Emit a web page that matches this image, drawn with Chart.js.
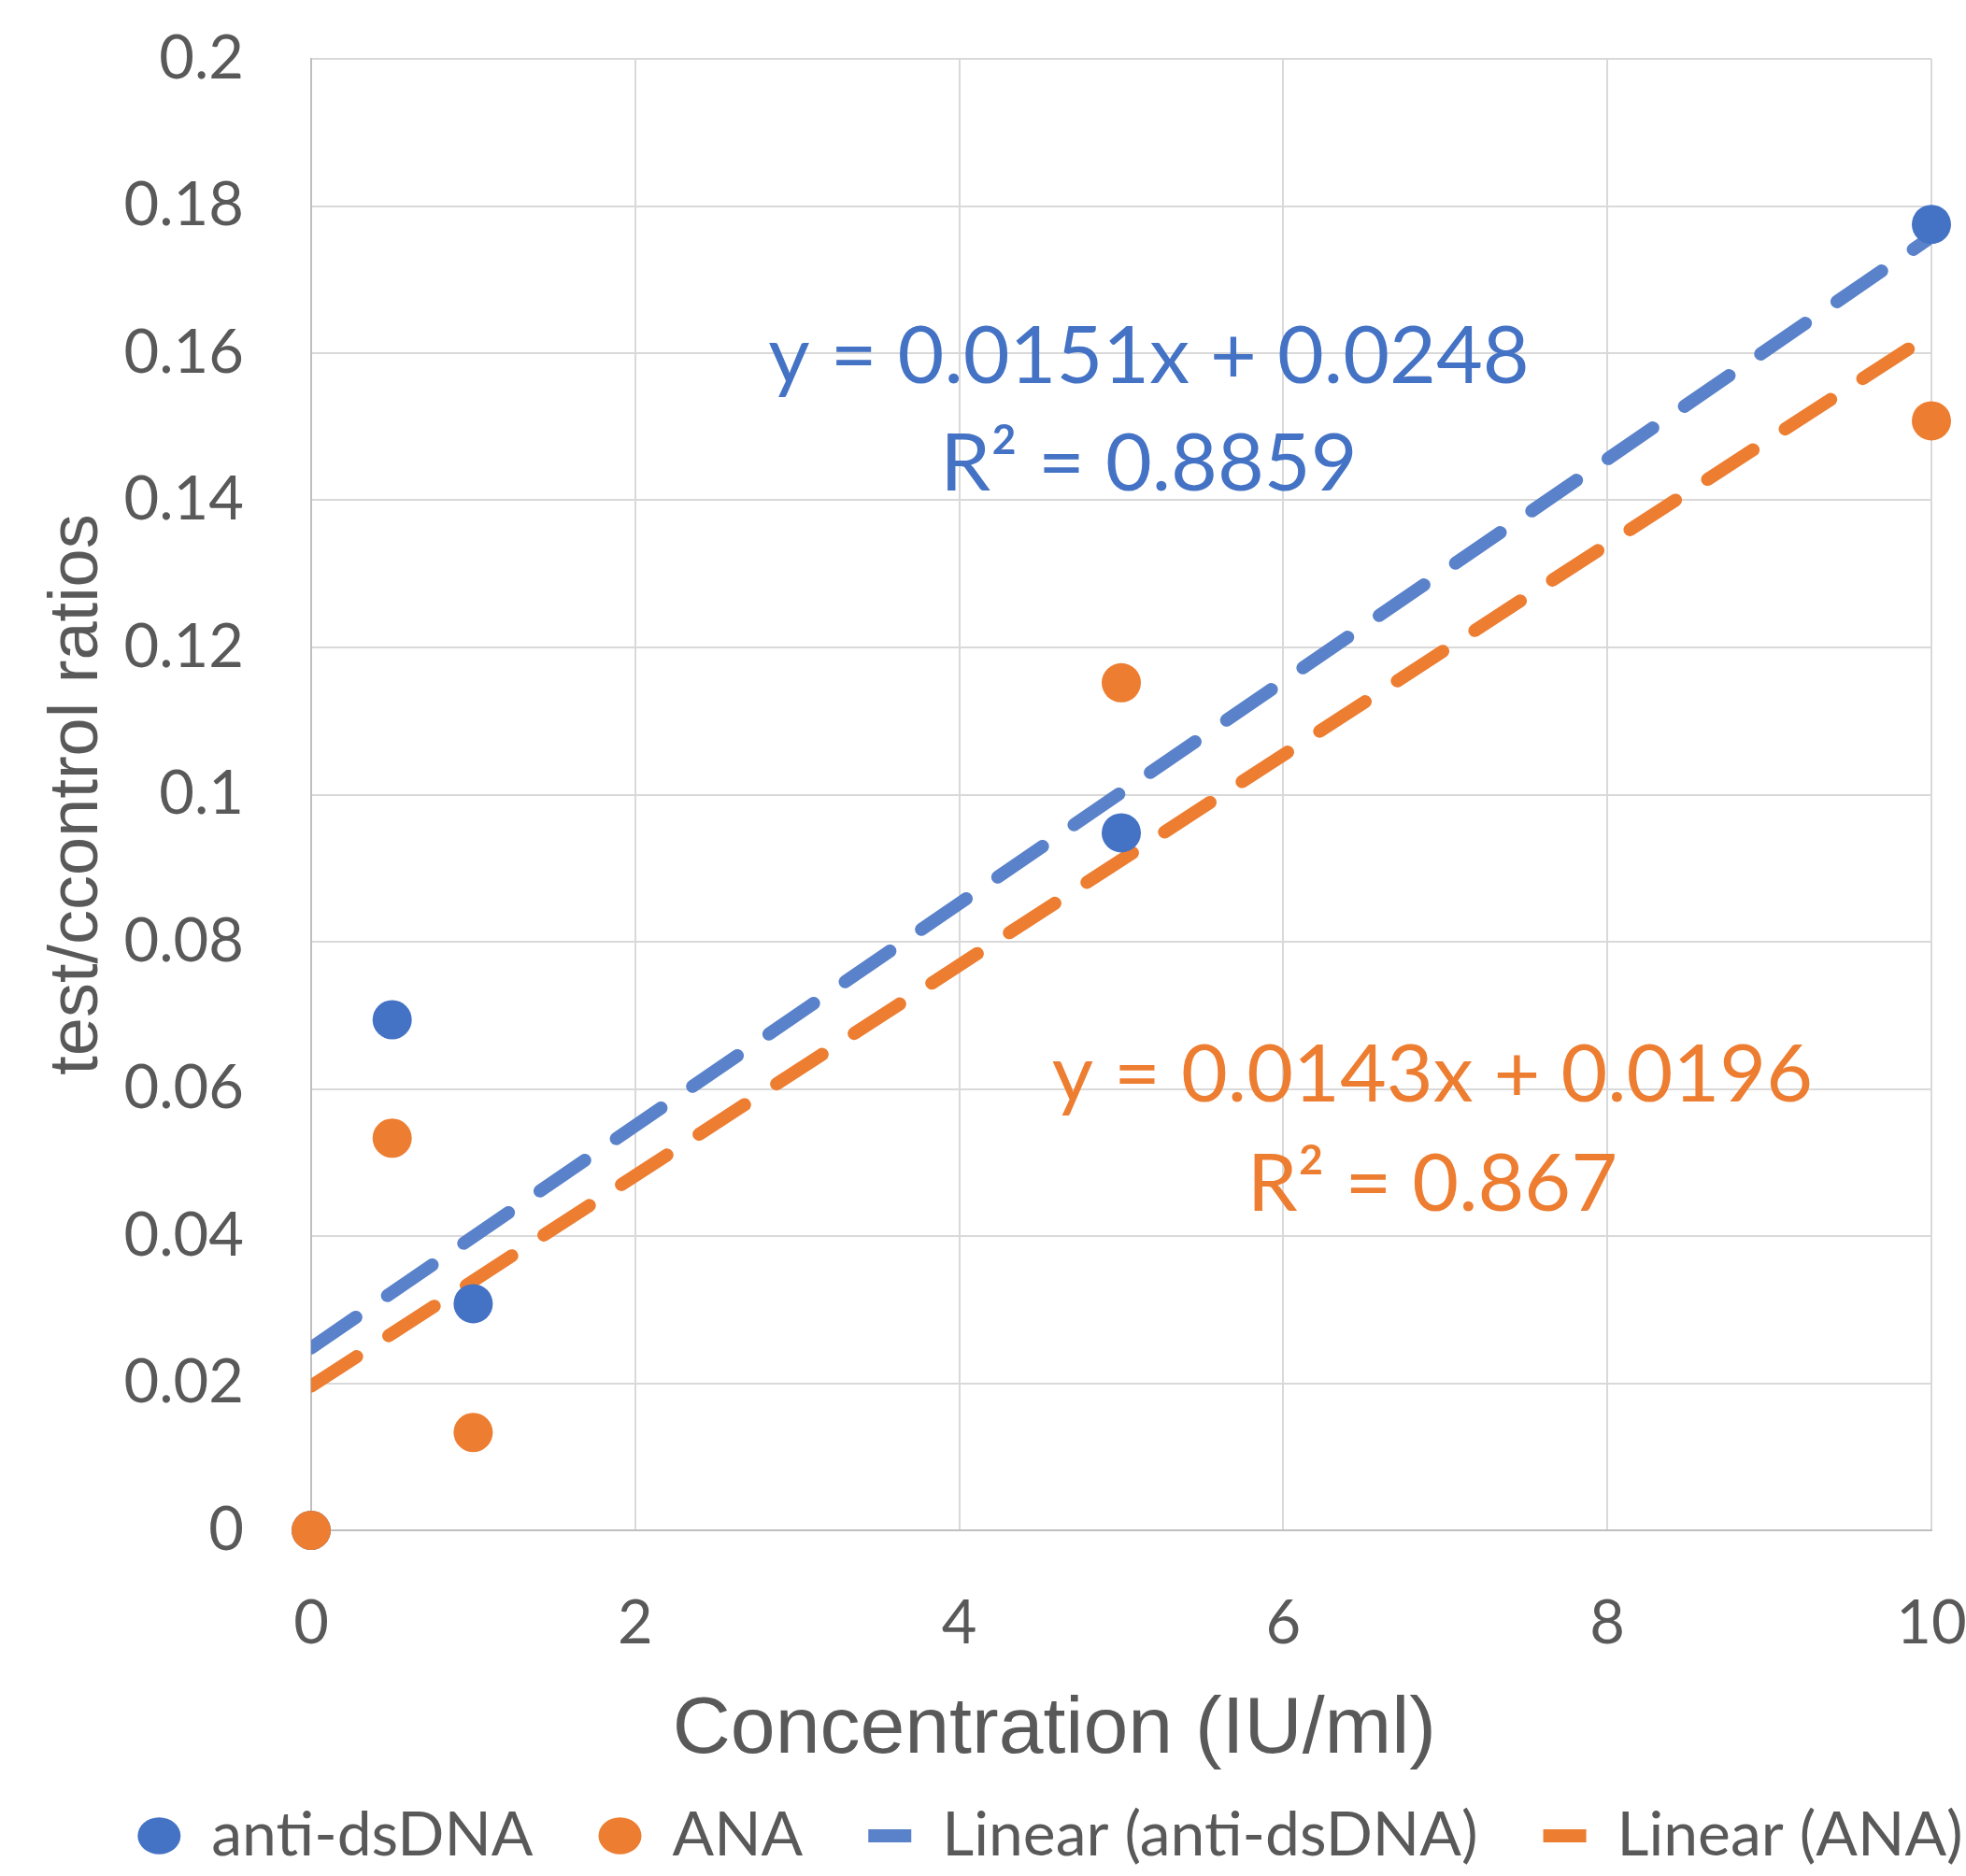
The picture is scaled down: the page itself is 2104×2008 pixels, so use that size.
<!DOCTYPE html>
<html>
<head>
<meta charset="utf-8">
<script src="https://cdn.jsdelivr.net/npm/chart.js@4"></script>
<style>
  html, body { margin: 0; padding: 0; background: #fff; }
  #wrap { width: 2104px; height: 2008px; }
</style>
</head>
<body>
<div id="wrap"><canvas id="chart" width="2104" height="2008"></canvas></div>
<script>
// Concentration (IU/ml) and measured test/control ratios
const concentrations = [0, 0.5, 1, 5, 10];
const antiDsDna = [0, 0.0694, 0.0308, 0.0948, 0.1775];
const ana = [0, 0.0533, 0.0133, 0.1152, 0.1508];

// Excel linear trendlines as printed on the chart
const trendSlopes = [0.0151, 0.0143];
const trendIntercepts = [0.0248, 0.0196];
const trendRange = [0, 10];
const equationLabels = [
  ['y = 0.0151x + 0.0248', 'R\u00b2 = 0.8859'],
  ['y = 0.0143x + 0.0196', 'R\u00b2 = 0.867']
];

const yTicks = [0, 0.02, 0.04, 0.06, 0.08, 0.1, 0.12, 0.14, 0.16, 0.18, 0.2];
const xTicks = [0, 2, 4, 6, 8, 10];

const BLUE = '#4472C4';
const ORANGE = '#ED7D31';
const BLUE_LINE = '#5A82CA';
const TEXT = '#595959';

const toPoints = (xs, ys) => xs.map((x, i) => ({ x: x, y: ys[i] }));
const trendPoints = i => trendRange.map(x => ({ x: x, y: trendSlopes[i] * x + trendIntercepts[i] }));

// draws the trendline equations next to the lines
const equationPlugin = {
  id: 'equations',
  afterDatasetsDraw(chart) {
    const { ctx, scales } = chart;
    const spots = [
      { x: 5.17, y: [0.1594, 0.1448], color: BLUE },
      { x: 6.92, y: [0.0618, 0.0470], color: ORANGE }
    ];
    ctx.save();
    ctx.font = '86px Lato';
    ctx.textAlign = 'center';
    ctx.textBaseline = 'middle';
    spots.forEach((s, i) => {
      ctx.fillStyle = s.color;
      equationLabels[i].forEach((line, j) => {
        ctx.fillText(line, scales.x.getPixelForValue(s.x), scales.y.getPixelForValue(s.y[j]));
      });
    });
    ctx.restore();
  }
};

// the Excel legend row sits a bit right of centre
const legendShift = {
  id: 'legendShift',
  afterLayout(chart) {
    chart.legend.left += 72;
    chart.legend.right += 72;
  }
};

new Chart(document.getElementById('chart'), {
  type: 'scatter',
  data: {
    datasets: [
      {
        label: 'anti-dsDNA',
        data: toPoints(concentrations, antiDsDna),
        backgroundColor: BLUE,
        borderColor: BLUE,
        pointRadius: 21,
        pointBorderWidth: 0,
        borderWidth: 0,
        clip: false,
        order: 1
      },
      {
        label: 'ANA',
        data: toPoints(concentrations, ana),
        backgroundColor: ORANGE,
        borderColor: ORANGE,
        pointRadius: 21,
        pointBorderWidth: 0,
        borderWidth: 0,
        clip: false,
        order: 0
      },
      {
        type: 'line',
        label: 'Linear (anti-dsDNA)',
        data: trendPoints(0),
        borderColor: BLUE_LINE,
        backgroundColor: BLUE_LINE,
        borderWidth: 14,
        borderDash: [58, 41],
        borderCapStyle: 'round',
        pointRadius: 0,
        pointStyle: 'line',
        fill: false,
        order: 3
      },
      {
        type: 'line',
        label: 'Linear (ANA)',
        data: trendPoints(1),
        borderColor: ORANGE,
        backgroundColor: ORANGE,
        borderWidth: 14,
        borderDash: [58, 41],
        borderCapStyle: 'round',
        pointRadius: 0,
        pointStyle: 'line',
        fill: false,
        order: 2
      }
    ]
  },
  options: {
    responsive: false,
    animation: false,
    devicePixelRatio: 1,
    layout: { padding: { top: 63, right: 0, left: 0, bottom: 0 } },
    plugins: {
      tooltip: { enabled: false },
      legend: {
        position: 'bottom',
        labels: {
          usePointStyle: true,
          pointStyleWidth: 46,
          boxHeight: 28,
          padding: 70,
          color: TEXT,
          font: { family: 'Lato', size: 66 },
          sort: (a, b) => a.datasetIndex - b.datasetIndex
        }
      }
    },
    scales: {
      x: {
        type: 'linear',
        min: 0,
        max: 10,
        afterBuildTicks: s => { s.ticks = xTicks.map(v => ({ value: v })); },
        afterFit: s => { s.height = 224; s.paddingLeft = 0; s.paddingRight = 37; },
        grid: { color: '#D9D9D9', lineWidth: 2, drawTicks: false },
        border: { color: '#BFBFBF', width: 2 },
        ticks: { color: TEXT, padding: 61, font: { family: 'Lato', size: 65 } },
        title: {
          display: true,
          text: 'Concentration (IU/ml)\u00a0\u00a0\u00a0\u00a0\u00a0\u00a0',
          color: TEXT,
          font: { family: 'Liberation Sans', size: 86, lineHeight: 1 },
          padding: { top: 0, bottom: -33 }
        }
      },
      y: {
        min: 0,
        max: 0.2,
        afterBuildTicks: s => { s.ticks = yTicks.map(v => ({ value: v })); },
        afterFit: s => { s.width = 333; s.paddingTop = 0; s.paddingBottom = 0; },
        grid: { color: '#D9D9D9', lineWidth: 2, drawTicks: false },
        border: { color: '#BFBFBF', width: 2 },
        ticks: {
          color: TEXT,
          padding: 72,
          font: { family: 'Lato', size: 65 },
          callback: v => String(Math.round(v * 100) / 100)
        },
        title: {
          display: true,
          text: 'test/ccontrol ratios',
          color: TEXT,
          font: { family: 'Liberation Sans', size: 74 },
          padding: { top: 39, bottom: 0 }
        }
      }
    }
  },
  plugins: [equationPlugin, legendShift]
});
</script>
</body>
</html>
